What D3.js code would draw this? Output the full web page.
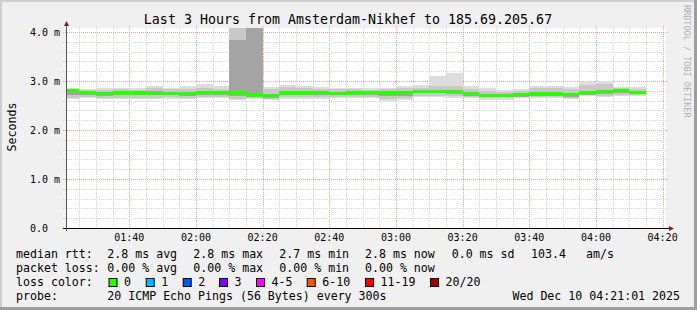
<!DOCTYPE html>
<html><head><meta charset="utf-8">
<script src="https://cdn.jsdelivr.net/npm/d3@7/dist/d3.min.js"></script>
<style>
html,body{margin:0;padding:0;background:#f0f0f0;}
svg{display:block;}
text{font-family:"DejaVu Sans Mono",monospace;fill:#000;}
</style>
</head><body><svg id="c" width="697" height="310"></svg>
<script>
// ---------------- data ----------------
const title = "Last 3 Hours from Amsterdam-Nikhef to 185.69.205.67";
const startTime = "2025-12-10T01:21:01Z";
const endTime = "2025-12-10T04:21:01Z";
const firstBinEnd = "2025-12-10T01:25:00Z";

// median rtt per 5-minute bin (ms)
const median = [2.80,2.77,2.745,2.755,2.755,2.745,2.745,2.745,2.77,2.765,2.75,2.715,2.705,2.755,2.755,2.767,2.747,2.755,2.767,2.755,2.767,2.788,2.788,2.782,2.741,2.704,2.704,2.72,2.735,2.735,2.72,2.76,2.782,2.80,2.767];
// smoke: outer (min/max ping)
const smokeMax = [2.85,2.83,2.85,2.86,2.85,2.89,2.86,2.89,2.94,2.89,4.09,4.09,2.88,2.91,2.90,2.87,2.86,2.86,2.86,2.86,2.90,2.92,3.11,3.17,2.89,2.86,2.81,2.84,2.89,2.89,2.87,2.97,2.99,2.88,2.88];
const smokeMin = [2.63,2.65,2.63,2.63,2.63,2.63,2.63,2.63,2.65,2.65,2.61,2.63,2.61,2.64,2.64,2.64,2.65,2.65,2.65,2.60,2.62,2.67,2.67,2.65,2.65,2.62,2.62,2.65,2.65,2.65,2.64,2.69,2.67,2.69,2.69];
// smoke: second layer
const smokeHi = [2.83,2.81,2.82,2.83,2.82,2.86,2.83,2.84,2.86,2.84,4.09,4.09,2.84,2.87,2.86,2.84,2.83,2.83,2.82,2.83,2.85,2.86,2.89,2.90,2.84,2.80,2.78,2.80,2.85,2.85,2.83,2.92,2.93,2.85,2.84];
const smokeLo = [2.66,2.67,2.66,2.66,2.66,2.66,2.67,2.66,2.68,2.68,2.64,2.65,2.64,2.67,2.67,2.67,2.67,2.68,2.68,2.64,2.65,2.70,2.70,2.69,2.68,2.65,2.65,2.67,2.68,2.68,2.66,2.71,2.70,2.72,2.71];
// smoke: third layer
const smokeHi3 = [2.81,2.79,2.78,2.78,2.78,2.79,2.77,2.77,2.80,2.79,3.83,4.09,2.73,2.79,2.79,2.80,2.78,2.79,2.79,2.78,2.79,2.81,2.81,2.81,2.77,2.73,2.72,2.75,2.77,2.77,2.75,2.79,2.81,2.82,2.79];
const smokeLo3 = [2.72,2.71,2.70,2.71,2.71,2.71,2.71,2.70,2.72,2.72,2.70,2.67,2.66,2.71,2.71,2.72,2.71,2.71,2.72,2.70,2.70,2.75,2.75,2.74,2.70,2.67,2.67,2.68,2.70,2.70,2.68,2.72,2.74,2.76,2.73];
// smoke: core layer
const smokeHi4 = [2.81,2.78,2.765,2.77,2.77,2.765,2.76,2.76,2.785,2.78,2.77,2.725,2.715,2.77,2.765,2.78,2.765,2.77,2.78,2.77,2.78,2.80,2.80,2.795,2.755,2.715,2.715,2.735,2.75,2.75,2.735,2.775,2.795,2.81,2.78];
const smokeLo4 = [2.78,2.74,2.72,2.73,2.73,2.72,2.72,2.72,2.745,2.74,2.725,2.69,2.68,2.73,2.73,2.74,2.72,2.73,2.74,2.73,2.74,2.765,2.765,2.755,2.715,2.68,2.68,2.695,2.71,2.71,2.695,2.735,2.755,2.775,2.74];

const yTicks = [0,1,2,3,4];
const yTickLabels = ["0.0","1.0 m","2.0 m","3.0 m","4.0 m"];
const xTickLabels = ["01:40","02:00","02:20","02:40","03:00","03:20","03:40","04:00","04:20"];

const rttLabel = "median rtt:";
const rttStats = ["2.8 ms avg","2.8 ms max","2.7 ms min","2.8 ms now","0.0 ms sd","103.4","am/s"];
const lossLabel = "packet loss:";
const lossStats = ["0.00 % avg","0.00 % max","0.00 % min","0.00 % now"];
const lossColorLabel = "loss color:";
const lossLabels = ["0","1","2","3","4-5","6-10","11-19","20/20"];
const lossColors = ["#26ff00","#00b8ff","#0059ff","#7e00ff","#ff00ff","#ff5500","#ff0000","#a10000"];
const probeLabel = "probe:";
const probeText = "20 ICMP Echo Pings (56 Bytes) every 300s";
const stamp = "Wed Dec 10 04:21:01 2025";
const watermark = "RRDTOOL / TOBI OETIKER";

// ---------------- drawing ----------------
const W = 697, H = 310;
const svg = d3.select("#c");
const t0 = new Date(startTime), t1 = new Date(endTime);
const x = d3.scaleUtc().domain([t0, t1]).range([66, 666]);
const y = d3.scaleLinear().domain([0, 4.08]).range([228, 28]);

// background & frame
svg.append("rect").attr("width", W).attr("height", H).attr("fill", "#f0f0f0");
svg.append("rect").attr("x", 0).attr("y", 0).attr("width", W).attr("height", 2).attr("fill", "#cfcfcf");
svg.append("rect").attr("x", 0).attr("y", 0).attr("width", 2).attr("height", H).attr("fill", "#cfcfcf");
svg.append("rect").attr("x", 0).attr("y", H - 3).attr("width", W).attr("height", 3).attr("fill", "#9e9e9e");
svg.append("rect").attr("x", W - 3).attr("y", 0).attr("width", 3).attr("height", H).attr("fill", "#9e9e9e");

// canvas
svg.append("rect").attr("x", 66).attr("y", 28).attr("width", 600).attr("height", 200).attr("fill", "#fff");

// grid
const g = svg.append("g");
const fiveMin = d3.utcMinute.every(5).range(t0, t1);
fiveMin.forEach(t => {
  const major = t.getUTCMinutes() % 20 === 0;
  const xp = Math.round(x(t)) + 0.5;
  g.append("line").attr("x1", xp).attr("x2", xp).attr("y1", 26).attr("y2", 230)
    .attr("stroke", major ? "#f4a0a0" : "#d8d8d8").attr("stroke-dasharray", "1,1");
});
d3.range(1, 21).forEach(k => {
  const v = k * 0.2;
  const major = k % 5 === 0;
  const yp = Math.round(y(v)) + 0.5;
  g.append("line").attr("x1", 63).attr("x2", 668).attr("y1", yp).attr("y2", yp)
    .attr("stroke", major ? "#f4a0a0" : "#d8d8d8").attr("stroke-dasharray", "1,1");
});

// bins
const binEnds = median.map((_, i) => d3.utcMinute.offset(new Date(firstBinEnd), 5 * i));
const binStarts = median.map((_, i) => i === 0 ? t0 : binEnds[i - 1]);

const layers = [
  [smokeMin, smokeMax, "#dddddd"],
  [smokeLo, smokeHi, "#c8c8c8"],
  [smokeLo3, smokeHi3, "#a4a4a4"],
  [smokeLo4, smokeHi4, "#585858"]
];
const data = svg.append("g").attr("shape-rendering", "crispEdges");
layers.forEach(([lo, hi, col]) => {
  data.selectAll(null).data(median).enter().append("rect")
    .attr("x", (d, i) => x(binStarts[i]))
    .attr("width", (d, i) => x(binEnds[i]) - x(binStarts[i]))
    .attr("y", (d, i) => y(hi[i]))
    .attr("height", (d, i) => y(lo[i]) - y(hi[i]))
    .attr("fill", col);
});
// median band (loss colour = 0)
data.selectAll(null).data(median).enter().append("rect")
  .attr("x", (d, i) => x(binStarts[i]))
  .attr("width", (d, i) => x(binEnds[i]) - x(binStarts[i]))
  .attr("y", d => y(d) - 1.7)
  .attr("height", 3.4)
  .attr("fill", lossColors[0]);

// axes
svg.append("line").attr("x1", 63).attr("x2", 670).attr("y1", 228.5).attr("y2", 228.5).attr("stroke", "#000");
svg.append("line").attr("x1", 66.5).attr("x2", 66.5).attr("y1", 231).attr("y2", 25).attr("stroke", "#555");
svg.append("path").attr("d", "M64,26 L69,26 L66.5,21 Z").attr("fill", "#8b1a1a");
svg.append("path").attr("d", "M669,226 L669,231 L674,228.5 Z").attr("fill", "#8b1a1a");

// tick labels
svg.selectAll(null).data(yTicks).enter().append("text")
  .attr("x", 30).attr("y", d => y(d) + 4)
  .attr("font-size", "10px").attr("fill", "#000")
  .text((d, i) => yTickLabels[i]);
const parseHM = s => { const [h, m] = s.split(":").map(Number); return new Date(Date.UTC(2025, 11, 10, h, m)); };
svg.selectAll(null).data(xTickLabels).enter().append("text")
  .attr("x", d => x(parseHM(d))).attr("y", 241)
  .attr("text-anchor", "middle").attr("font-size", "10px")
  .text(d => d);

// title
svg.append("text").attr("x", 348).attr("y", 24).attr("text-anchor", "middle")
  .attr("font-size", "13.3px").text(title);

// y label
svg.append("text").attr("transform", "translate(15.5,127) rotate(-90)")
  .attr("text-anchor", "middle").attr("font-size", "11.6px").text("Seconds");

// watermark
svg.append("text").attr("transform", "translate(683.5,5) rotate(90)")
  .attr("text-anchor", "start").attr("font-size", "8.5px").style("fill", "#b0b0b0").text(watermark);

// legend
const fs = "11.6px";
const lx = 16;
const rows = [258, 272, 286, 299.5];
const statX = [107.3, 193.3, 279.3, 365, 451.7, 531, 586];
const leg = svg.append("g").attr("font-size", fs);
leg.append("text").attr("x", lx).attr("y", rows[0]).text(rttLabel);
rttStats.forEach((s, i) => leg.append("text").attr("x", statX[i]).attr("y", rows[0]).text(s));
leg.append("text").attr("x", lx).attr("y", rows[1]).text(lossLabel);
lossStats.forEach((s, i) => leg.append("text").attr("x", statX[i]).attr("y", rows[1]).text(s));
leg.append("text").attr("x", lx).attr("y", rows[2]).text(lossColorLabel);
const boxX = [108.5, 145.7, 182.7, 219, 256, 306.7, 365, 430];
lossLabels.forEach((s, i) => {
  leg.append("rect").attr("x", boxX[i] + 0.5).attr("y", 278.5).attr("width", 8).attr("height", 8)
    .attr("fill", lossColors[i]).attr("stroke", "#000").attr("stroke-width", 1);
  leg.append("text").attr("x", boxX[i] + 15.5).attr("y", rows[2]).text(s);
});
leg.append("text").attr("x", lx).attr("y", rows[3]).text(probeLabel);
leg.append("text").attr("x", statX[0]).attr("y", rows[3]).text(probeText);
leg.append("text").attr("x", 680).attr("y", rows[3]).attr("text-anchor", "end").text(stamp);
</script>
</body></html>
